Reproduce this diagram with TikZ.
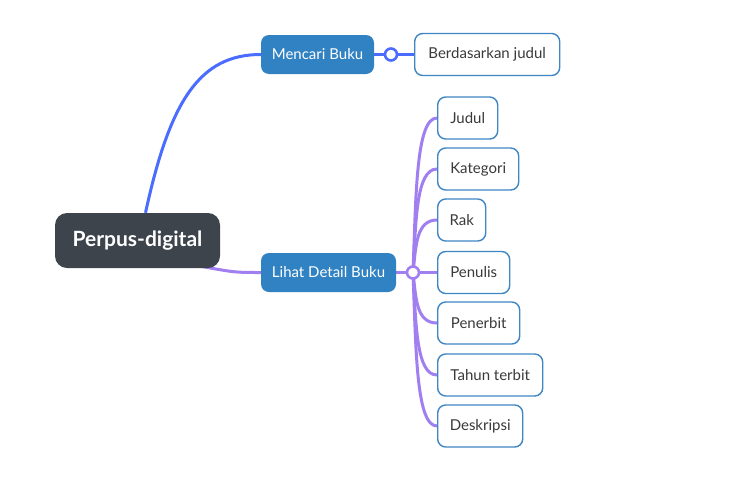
\documentclass[tikz,border=0pt]{standalone}
\usepackage{fontspec}
\setmainfont{Lato}
\usetikzlibrary{calc,backgrounds}
\definecolor{rootfill}{HTML}{3D444C}
\definecolor{mainfill}{HTML}{3182C2}
\definecolor{bluelink}{HTML}{4A6CFF}
\definecolor{purplelink}{HTML}{A27FF0}
\definecolor{leafborder}{HTML}{3F86C4}
\definecolor{leaftext}{HTML}{3A3A3A}
\begin{document}
\begin{tikzpicture}[x=1pt,y=-1pt,
  rootbox/.style={draw=none,fill=rootfill,rounded corners=12pt,text=white,
    font=\fontsize{21}{24}\selectfont\bfseries,minimum height=55pt,inner sep=0pt},
  mainbox/.style={draw=none,fill=mainfill,rounded corners=8pt,text=white,
    font=\fontsize{15}{17}\selectfont,minimum height=39pt,inner sep=0pt},
  leafbox/.style={draw=leafborder,line width=1.4pt,fill=white,rounded corners=8pt,text=leaftext,
    font=\fontsize{15}{17}\selectfont,minimum height=42pt,inner sep=0pt,anchor=west},
  bluel/.style={draw=bluelink,line width=3pt},
  purplel/.style={draw=purplelink,line width=3pt},
  knot/.style={circle,fill=white,line width=2.6pt,minimum size=12pt,inner sep=0pt}
]
\useasboundingbox (0,0) rectangle (730,477);

\node[rootbox,minimum width=165pt] (root) at (137.5,240.5) {Perpus-digital};
\node[mainbox,minimum width=113pt] (cari) at (317.5,54.5) {Mencari Buku};
\node[mainbox,minimum width=135pt] (lihat) at (328.5,272.5) {Lihat Detail Buku};

\node[knot,draw=bluelink] (k1) at (391,54.5) {};
\node[knot,draw=purplelink] (k2) at (413,272.5) {};

\node[leafbox,minimum width=145pt] (judulx) at (414,54.5) {Berdasarkan judul};

\node[leafbox,minimum width=60pt] (l1) at (437,118) {Judul};
\node[leafbox,minimum width=81pt] (l2) at (437,169) {Kategori};
\node[leafbox,minimum width=48pt] (l3) at (437,220) {Rak};
\node[leafbox,minimum width=72pt] (l4) at (437,272.5) {Penulis};
\node[leafbox,minimum width=82pt] (l5) at (437,323) {Penerbit};
\node[leafbox,minimum width=105pt] (l6) at (437,375) {Tahun terbit};
\node[leafbox,minimum width=85pt] (l7) at (437,426) {Deskripsi};

\coordinate (t) at (416,272.5);

\begin{scope}[on background layer]
  \fill[white] (0,0) rectangle (730,477);
  \draw[bluel] ($(root.north)+(8,0)$) .. controls (170,100) and (200,54.5) .. (cari.west);
  \draw[bluel] (cari.east) -- (k1.center) -- (judulx.west);
  \draw[purplel] ($(root.south east)+(-20,-2)$) .. controls (235,272.5) .. (lihat.west);
  \draw[purplel] (lihat.east) -- (k2.center) -- (l4.west);
  \foreach \n in {l1,l2,l3,l5,l6,l7} {
    \draw[purplel] (k2.center) .. controls ($(t)!0.5!(t |- \n.west)$) and ($(t |- \n.west)$) .. (\n.west);
  }
\end{scope}
\end{tikzpicture}
\end{document}
